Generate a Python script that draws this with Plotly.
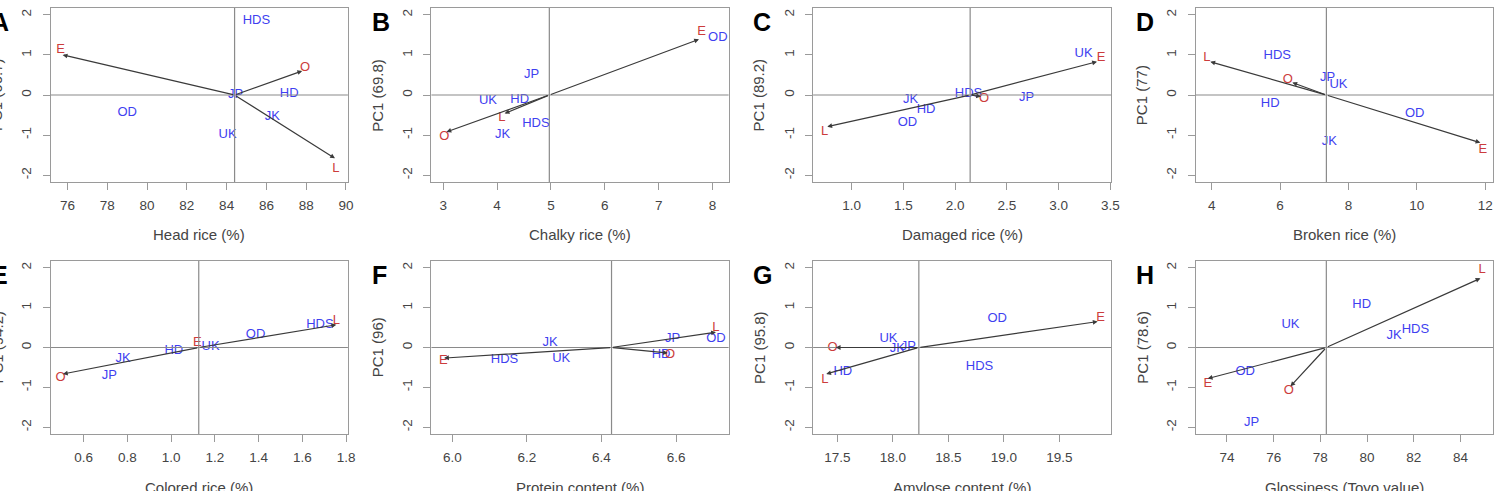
import plotly.graph_objects as go

# ---------------- data ----------------
variety_names = ["HDS", "OD", "JP", "HD", "JK", "UK"]
env_names = ["E", "O", "L"]

panel_letters = ["A", "B", "C", "D", "E", "F", "G", "H"]
x_titles = ["Head rice (%)", "Chalky rice (%)", "Damaged rice (%)", "Broken rice (%)",
            "Colored rice (%)", "Protein content (%)", "Amylose content (%)",
            "Glossiness (Toyo value)"]
y_titles = ["PC1 (66.7)", "PC1 (69.8)", "PC1 (89.2)", "PC1 (77)",
            "PC1 (94.2)", "PC1 (96)", "PC1 (95.8)", "PC1 (78.6)"]

# A  Head rice
a_var_x = [85.5, 79.0, 84.45, 87.15, 86.3, 84.05]
a_var_y = [1.86, -0.45, 0.0, 0.02, -0.55, -1.0]
a_env_x = [75.75, 87.8, 89.45]
a_env_y = [1.0, 0.6, -1.58]
a_lab_x = [75.65, 87.95, 89.5]
a_lab_y = [1.12, 0.67, -1.83]
a_mean = 84.4

# B  Chalky rice
b_var_x = [4.72, 8.1, 4.64, 4.42, 4.1, 3.83]
b_var_y = [-0.72, 1.44, 0.5, -0.11, -1.0, -0.14]
b_env_x = [7.75, 3.06, 4.14]
b_env_y = [1.39, -0.92, -0.46]
b_lab_x = [7.8, 3.02, 4.09]
b_lab_y = [1.58, -1.04, -0.56]
b_mean = 4.97

# C  Damaged rice
c_var_x = [2.13, 1.54, 2.69, 1.72, 1.57, 3.24]
c_var_y = [0.03, -0.69, -0.06, -0.36, -0.11, 1.04]
c_env_x = [3.37, 2.25, 0.766]
c_env_y = [0.83, -0.04, -0.79]
c_lab_x = [3.41, 2.28, 0.74]
c_lab_y = [0.92, -0.1, -0.92]
c_mean = 2.145

# D  Broken rice
d_var_x = [5.92, 9.94, 7.39, 5.71, 7.44, 7.71]
d_var_y = [0.98, -0.48, 0.44, -0.21, -1.17, 0.25]
d_env_x = [11.86, 6.36, 3.96]
d_env_y = [-1.19, 0.31, 0.83]
d_lab_x = [11.93, 6.23, 3.86]
d_lab_y = [-1.37, 0.38, 0.92]
d_mean = 7.355

# E  Colored rice
e_var_x = [1.68, 1.386, 0.717, 1.012, 0.78, 1.18]
e_var_y = [0.57, 0.32, -0.72, -0.08, -0.27, 0.03]
e_env_x = [1.12, 0.505, 1.755]
e_env_y = [0.05, -0.665, 0.57]
e_lab_x = [1.12, 0.494, 1.755]
e_lab_y = [0.12, -0.77, 0.67]
e_mean = 1.126

# F  Protein content
f_var_x = [6.14, 6.707, 6.591, 6.56, 6.262, 6.292]
f_var_y = [-0.31, 0.22, 0.22, -0.18, 0.13, -0.27]
f_env_x = [5.978, 6.578, 6.707]
f_env_y = [-0.265, -0.14, 0.385]
f_lab_x = [5.976, 6.584, 6.707]
f_lab_y = [-0.33, -0.18, 0.485]
f_mean = 6.427

# G  Amylose content
g_var_x = [18.78, 18.94, 18.14, 17.55, 18.04, 17.96]
g_var_y = [-0.49, 0.73, 0.03, -0.6, -0.03, 0.21]
g_env_x = [19.844, 17.486, 17.40]
g_env_y = [0.65, 0.0, -0.665]
g_lab_x = [19.87, 17.456, 17.387]
g_lab_y = [0.735, 0.0, -0.81]
g_mean = 18.234

# H  Glossiness
h_var_x = [82.07, 74.78, 75.06, 79.77, 81.16, 76.72]
h_var_y = [0.44, -0.6, -1.89, 1.07, 0.3, 0.57]
h_env_x = [73.18, 76.72, 84.85]
h_env_y = [-0.78, -0.975, 1.735]
h_lab_x = [73.18, 76.65, 84.92]
h_lab_y = [-0.92, -1.08, 1.94]
h_mean = 78.255

panels = [
    (a_var_x, a_var_y, a_env_x, a_env_y, a_lab_x, a_lab_y, a_mean),
    (b_var_x, b_var_y, b_env_x, b_env_y, b_lab_x, b_lab_y, b_mean),
    (c_var_x, c_var_y, c_env_x, c_env_y, c_lab_x, c_lab_y, c_mean),
    (d_var_x, d_var_y, d_env_x, d_env_y, d_lab_x, d_lab_y, d_mean),
    (e_var_x, e_var_y, e_env_x, e_env_y, e_lab_x, e_lab_y, e_mean),
    (f_var_x, f_var_y, f_env_x, f_env_y, f_lab_x, f_lab_y, f_mean),
    (g_var_x, g_var_y, g_env_x, g_env_y, g_lab_x, g_lab_y, g_mean),
    (h_var_x, h_var_y, h_env_x, h_env_y, h_lab_x, h_lab_y, h_mean),
]

# axis settings (layout)
x_ranges = [[75.15, 90.1], [2.78, 8.30], [0.629, 3.508], [3.535, 12.23],
            [0.449, 1.808], [5.944, 6.741], [17.282, 19.967], [72.668, 85.39]]
x_tick0 = [76, 3, 1.0, 4, 0.6, 6.0, 17.5, 74]
x_dtick = [2, 1, 0.5, 2, 0.2, 0.2, 0.5, 2]
x_fmt = ["d", "d", ".1f", "d", ".1f", ".1f", ".1f", "d"]
y_tickvals = [-2, -1, 0, 1, 2]
y_ticktext = ["-2", "-1", "0", "1", "2"]

# ---------------- layout geometry (pixels) ----------------
W, H = 1506, 491
cols = [(51, 350), (434, 733), (818, 1118), (1203, 1502)]
rows = [(8, 182), (261, 434)]

FONT = "Liberation Sans, Arial, Helvetica, sans-serif"
BLUE = "#3f3ff0"
RED = "#cc3c3c"
GRAY = "#9a9a9a"
TXT = "#444444"

fig = go.Figure()
layout = dict(
    width=W, height=H,
    margin=dict(l=0, r=0, t=0, b=0),
    paper_bgcolor="white", plot_bgcolor="white",
    showlegend=False,
    font=dict(family=FONT, size=13, color=TXT),
)
annotations = []
shapes = []

for i, (vx, vy, ex, ey, lx, ly, mean) in enumerate(panels):
    n = "" if i == 0 else str(i + 1)
    xa, ya = "x" + n, "y" + n
    c0, c1 = cols[i % 4]
    r0, r1 = rows[i // 4]
    xdom = [c0 / W, c1 / W]
    ydom = [1 - r1 / H, 1 - r0 / H]

    layout["xaxis" + n] = dict(
        domain=xdom, anchor=ya, range=x_ranges[i],
        tick0=x_tick0[i], dtick=x_dtick[i], tickformat=x_fmt[i],
        showline=True, mirror=True, linecolor=GRAY, linewidth=1,
        ticks="outside", ticklen=7, tickcolor=GRAY, tickwidth=1,
        showgrid=False, zeroline=False,
        tickfont=dict(family=FONT, size=13.5, color=TXT),
        ticklabelstandoff=4,
    )
    layout["yaxis" + n] = dict(
        domain=ydom, anchor=xa, range=[-2.17, 2.17],
        tickvals=y_tickvals, ticktext=y_ticktext, tickangle=-90,
        showline=True, mirror=True, linecolor=GRAY, linewidth=1,
        ticks="outside", ticklen=7, tickcolor=GRAY, tickwidth=1,
        showgrid=False, zeroline=False,
        tickfont=dict(family=FONT, size=13.5, color=TXT),
        ticklabelstandoff=6,
    )

    # reference lines
    shapes.append(dict(type="line", xref=xa, yref=ya + " domain",
                       x0=mean, x1=mean, y0=0, y1=1,
                       line=dict(color="#8a8a8a", width=1.2)))
    shapes.append(dict(type="line", xref=xa + " domain", yref=ya,
                       x0=0, x1=1, y0=0, y1=0,
                       line=dict(color="#8a8a8a", width=1.2)))

    # arrows from centre to environment points
    for tx, ty in zip(ex, ey):
        annotations.append(dict(
            x=tx, y=ty, xref=xa, yref=ya,
            ax=mean, ay=0, axref=xa, ayref=ya,
            text="", showarrow=True, arrowhead=2, arrowsize=0.8,
            arrowwidth=1.2, arrowcolor="#3a3a3a", standoff=0, startstandoff=0,
        ))

    # variety labels (blue)
    fig.add_trace(go.Scatter(
        x=vx, y=vy, mode="text", text=variety_names,
        textfont=dict(family=FONT, size=13, color=BLUE),
        xaxis=xa, yaxis=ya, cliponaxis=False, hoverinfo="text",
    ))
    # environment labels (red)
    fig.add_trace(go.Scatter(
        x=lx, y=ly, mode="text", text=env_names,
        textfont=dict(family=FONT, size=13, color=RED),
        xaxis=xa, yaxis=ya, cliponaxis=False, hoverinfo="text",
    ))

    # x-axis title
    x_title_y = 235 if i < 4 else 487
    annotations.append(dict(
        x=(c0 + c1) / 2 / W, y=1 - x_title_y / H, xref="paper", yref="paper",
        text=x_titles[i], showarrow=False, xanchor="center", yanchor="middle",
        font=dict(family=FONT, size=15, color=TXT),
    ))
    # y-axis title
    annotations.append(dict(
        x=(c0 - 54) / W, y=1 - (r0 + r1) / 2 / H, xref="paper", yref="paper",
        text=y_titles[i], showarrow=False, xanchor="center", yanchor="middle",
        textangle=-90, font=dict(family=FONT, size=15, color=TXT),
    ))
    # panel letter
    annotations.append(dict(
        x=(c0 - 62) / W, y=1 - (r0 - 2) / H, xref="paper", yref="paper",
        text="<b>" + panel_letters[i] + "</b>", showarrow=False,
        xanchor="left", yanchor="top",
        font=dict(family=FONT, size=25, color="black"),
    ))

layout["annotations"] = annotations
layout["shapes"] = shapes
fig.update_layout(**layout)
fig.write_html("out.html")
